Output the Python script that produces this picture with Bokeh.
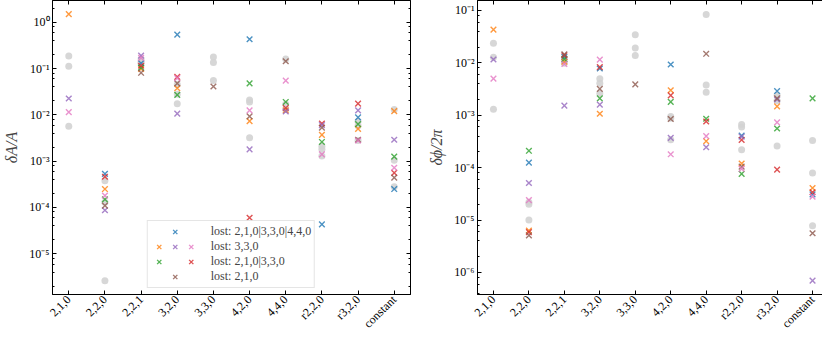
import math
from bokeh.plotting import figure
from bokeh.layouts import row
from bokeh.models import (FixedTicker, LogAxis, LinearAxis, LogTicker, CustomJSTickFormatter,
                          Legend, LegendItem, Range1d)
from bokeh.embed import file_html
from bokeh.resources import INLINE

nan = float("nan")

categories = ["2,1,0", "2,2,0", "2,2,1", "3,2,0", "3,3,0", "4,2,0", "4,4,0", "r2,2,0", "r3,2,0", "constant"]

series_names = ["blue", "orange", "green", "red", "purple", "brown", "pink"]
series_colors = ["#1f77b4", "#ff7f0e", "#2ca02c", "#d62728", "#9467bd", "#8c564b", "#e377c2"]

# left panel: dA/A
amp_blue   = [nan, 5.3e-4, 0.13, 0.54, nan, 0.43, nan, 4.3e-5, 0.0088, 2.5e-4]
amp_orange = [1.5, 2.5e-4, 0.098, 0.0375, nan, 0.0073, 0.0125, 0.0037, 0.005, 0.012]
amp_green  = [nan, 1.5e-4, 0.105, 0.027, nan, 0.048, 0.019, 0.0026, 0.0063, 0.00125]
amp_red    = [nan, 4.6e-4, 0.115, 0.066, nan, 6.0e-5, 0.0141, 0.0065, 0.0175, 5.6e-4]
amp_purple = [0.0226, 8.7e-5, 0.19, 0.0106, nan, 0.0018, 0.0118, 0.006, 0.0125, 0.0029]
amp_brown  = [nan, 1.1e-4, 0.081, 0.048, 0.041, 0.0093, 0.144, 0.0053, 0.0029, 4.4e-4]
amp_pink   = [0.0115, 1.8e-4, 0.17, 0.062, nan, 0.0125, 0.055, 0.0014, 0.0028, 7.2e-4]
amp_gray1  = [0.187, 3.8e-4, 0.16, 0.0173, 0.178, 0.021, 0.16, 0.0021, 0.0072, 0.013]
amp_gray2  = [0.112, 1.3e-4, 0.14, 0.028, 0.135, 0.019, 0.017, 0.0018, 0.0058, 0.00105]
amp_gray3  = [0.0057, 2.6e-6, 0.13, 0.045, 0.055, 0.0032, 0.013, 0.0013, 0.0028, 2.8e-4]

# right panel: dphi/2pi
ph_blue   = [nan, 1.25e-4, 0.013, 0.0078, nan, 0.0093, nan, 4.1e-4, 0.0029, 3.1e-5]
ph_orange = [0.043, 6.3e-6, 0.0105, 0.00107, nan, 0.003, 3.2e-4, 1.2e-4, 0.00148, 4.1e-5]
ph_green  = [nan, 2.1e-4, 0.0118, 0.0021, nan, 0.0018, 8.6e-4, 7.6e-5, 5.6e-4, 0.0021]
ph_red    = [nan, 5.9e-6, 0.014, 0.0083, nan, 0.0024, 7.6e-4, 3.4e-4, 9.2e-5, 3.4e-5]
ph_purple = [0.0116, 5.1e-5, 0.00153, 0.0016, nan, 3.7e-4, 2.45e-4, 3.9e-4, 0.002, 7.0e-7]
ph_brown  = [nan, 5.1e-6, 0.0145, 0.0032, 0.0039, 8.5e-4, 0.0149, 1.05e-4, 0.0021, 5.6e-6]
ph_pink   = [0.005, 2.4e-5, 0.0095, 0.0115, nan, 1.8e-4, 4.0e-4, 9.5e-5, 7.3e-4, 2.8e-5]
ph_gray1  = [0.0237, 2.2e-5, 0.0125, 0.005, 0.0344, 9.5e-4, 0.084, 6.7e-4, 0.0024, 3.3e-4]
ph_gray2  = [0.0128, 2.0e-5, 0.011, 0.0041, 0.0193, 8.8e-4, 0.0038, 6.0e-4, 0.0019, 7.9e-5]
ph_gray3  = [0.0013, 1.0e-5, 0.0098, 0.0026, 0.0138, 3.4e-4, 0.00275, 2.2e-4, 2.6e-4, 7.8e-6]

legend_labels = ["lost: 2,1,0|3,3,0|4,4,0", "lost: 3,3,0", "lost: 2,1,0|3,3,0", "lost: 2,1,0"]

FONT = "Liberation Serif"

EXP_CODE = """
const sup = {"0":"\u2070","1":"\u00b9","2":"\u00b2","3":"\u00b3","4":"\u2074","5":"\u2075",
             "6":"\u2076","7":"\u2077","8":"\u2078","9":"\u2079","-":"\u207b"};
const e = Math.round(Math.log10(tick));
return "10" + String(e).split("").map(c => sup[c]).join("");
"""


def xy(vals):
    xs = [i for i, v in enumerate(vals) if not math.isnan(v)]
    ys = [v for v in vals if not math.isnan(v)]
    return xs, ys


def make_panel(colored, grays, y_lo, y_hi, ylabel, bl, fw, br, with_legend=False):
    p = figure(x_range=Range1d(-0.45, 9.45), y_range=Range1d(y_lo, y_hi), y_axis_type="log",
               frame_width=fw, frame_height=294, min_border_left=bl, min_border_right=br,
               min_border_top=0, min_border_bottom=37,
               output_backend="svg", toolbar_location=None)
    p.xgrid.visible = False
    p.ygrid.visible = False
    p.outline_line_color = "black"
    p.outline_line_width = 1
    p.background_fill_color = "white"
    p.border_fill_color = "white"

    xt = FixedTicker(ticks=list(range(len(categories))), minor_ticks=[])
    xa = p.xaxis[0]
    xa.ticker = xt
    xa.major_label_overrides = {i: c for i, c in enumerate(categories)}
    xa.major_label_orientation = math.pi / 4
    ya = p.yaxis[0]
    ya.ticker = LogTicker(desired_num_ticks=8)
    ya.formatter = CustomJSTickFormatter(code=EXP_CODE)
    ya.axis_label = ylabel
    ya.axis_label_text_font = FONT
    ya.axis_label_text_font_style = "italic"
    ya.axis_label_text_font_size = "16px"
    ya.axis_label_standoff = 6

    top = LinearAxis(ticker=xt, formatter=CustomJSTickFormatter(code="return ''"))
    right = LogAxis(ticker=LogTicker(desired_num_ticks=8), formatter=CustomJSTickFormatter(code="return ''"))
    p.add_layout(top, "above")
    p.add_layout(right, "right")

    for ax in [xa, ya, top, right]:
        ax.major_tick_in = 4
        ax.major_tick_out = 0
        ax.minor_tick_in = 2
        ax.minor_tick_out = 0
        ax.axis_line_color = "black"
        ax.major_tick_line_color = "black"
        ax.minor_tick_line_color = "black"
        ax.major_label_text_font = FONT
        ax.major_label_text_font_size = "12px"
        ax.major_label_text_color = "black"
        ax.major_label_standoff = 3
    top.major_label_standoff = 0
    right.major_label_standoff = 0

    for g in grays:
        gx, gy = xy(g)
        p.scatter(gx, gy, marker="circle", size=7, fill_color="lightgray", line_color=None, alpha=0.9)

    rends = []
    for vals, col in zip(colored, series_colors):
        sx, sy = xy(vals)
        r = p.scatter(sx, sy, marker="x", size=8, line_color=col, line_width=1.4, line_alpha=0.8)
        rends.append(r)

    if with_legend:
        blank = p.scatter([], [], marker="x", size=8, line_color="white", line_alpha=0)
        b, o, g, rd, pu, br_, pk = rends
        pad = "\u00a0" * 4
        grid = [
            [blank, b, blank, legend_labels[0]],
            [o, pu, pk, legend_labels[1]],
            [g, blank, rd, legend_labels[2]],
            [blank, br_, blank, legend_labels[3]],
        ]
        items = []
        for c1, c2, c3, lab in grid:
            items.append(LegendItem(label="", renderers=[c1]))
            items.append(LegendItem(label="", renderers=[c2]))
            items.append(LegendItem(label=pad + lab, renderers=[c3]))
        leg = Legend(items=items, location="bottom_center", orientation="horizontal", ncols=3,
                     glyph_width=16, glyph_height=15, label_height=15, label_width=0,
                     label_standoff=0, spacing=0, padding=3, margin=6,
                     label_text_font=FONT, label_text_font_size="12px",
                     label_text_line_height=1.0,
                     background_fill_alpha=0.8, border_line_color="#cccccc", border_line_width=1)
        p.add_layout(leg, "center")
    return p


left = make_panel([amp_blue, amp_orange, amp_green, amp_red, amp_purple, amp_brown, amp_pink],
                  [amp_gray1, amp_gray2, amp_gray3], 1.32e-6, 2.95, "\u03b4A/A",
                  41, 358, 15, with_legend=True)
right = make_panel([ph_blue, ph_orange, ph_green, ph_red, ph_purple, ph_brown, ph_pink],
                   [ph_gray1, ph_gray2, ph_gray3], 3.8e-7, 0.155, "\u03b4\u03d5/2\u03c0",
                   32, 351, 9)

layout = row(left, right)
open("out.html", "w").write(file_html(layout, INLINE))
